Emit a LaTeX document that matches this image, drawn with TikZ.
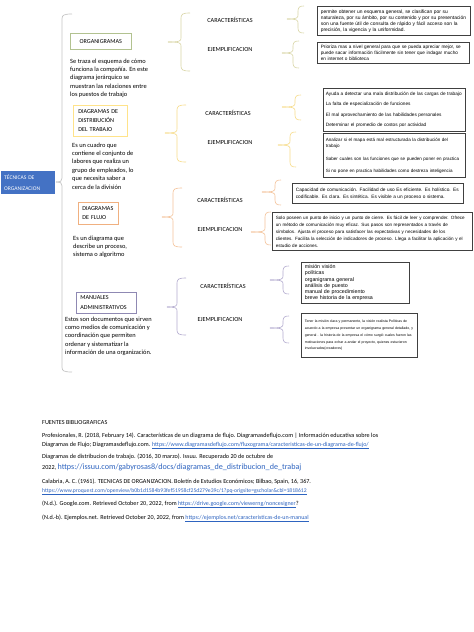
\documentclass[tikz,border=0pt]{standalone}
\usepackage{fontspec}
\setmainfont{Carlito}
\newfontfamily\arialf{Liberation Sans}
\definecolor{mainblue}{HTML}{4472C4}
\definecolor{graybr}{HTML}{C4C4C4}
\definecolor{orgbr}{HTML}{D9D6A6}
\definecolor{orgbox}{HTML}{B2C290}
\definecolor{distbr}{HTML}{F7DC8A}
\definecolor{distbox}{HTML}{FFE38A}
\definecolor{flubr}{HTML}{F4C39A}
\definecolor{flubox}{HTML}{F0B080}
\definecolor{manbr}{HTML}{B3ABCF}
\definecolor{manbox}{HTML}{8F89B3}
\definecolor{boxline}{HTML}{404040}
\definecolor{urlblue}{HTML}{2E64C0}
\newcommand\fs[2]{\fontsize{#1}{#2}\selectfont}
\newcommand\lnk[1]{\textcolor{urlblue}{\underline{#1}}}
% brace: x, top, mid, bottom, tick x, stub, style
\newcommand\cbr[7]{%
\draw[#7] ({#1+#6},#2) .. controls ({#1+2},#2) and (#1,{#2+1}) .. (#1,{#2+5}) -- (#1,{#3-4}) .. controls (#1,{#3-1}) and ({#1-1},#3) .. (#5,#3);
\draw[#7] (#5,#3) .. controls ({#1-1},#3) and (#1,{#3+1}) .. (#1,{#3+4}) -- (#1,{#4-5}) .. controls (#1,{#4-1}) and ({#1+2},#4) .. ({#1+#6},#4);}
\tikzset{
  brc/.style={line width=0.6pt},
  mainnode/.style={fill=mainblue, text=white, font=\fs{5.6}{11}, align=left, anchor=north west, inner xsep=3pt, text width=48pt, minimum height=23pt},
  branch/.style={draw, line width=0.6pt, align=left, anchor=north west, font=\fs{6.1}{9}},
  lbl/.style={font=\fs{6.2}{7}, inner sep=0pt},
  desc/.style={font=\fs{6.4}{8.4}, align=left, anchor=north west, inner sep=0pt},
  cbox/.style={draw=boxline, line width=0.7pt, align=left, anchor=north west, inner xsep=3.5pt, inner ysep=1pt},
  bib/.style={font=\fs{6.15}{7}, anchor=base west, inner sep=0pt}
}
\begin{document}
\begin{tikzpicture}[x=1pt,y=-1pt]
\useasboundingbox[fill=white] (0,0) rectangle (474,632);

% main node
\node[mainnode] (main) at (1,171) {TÉCNICAS DE\\ORGANIZACION};

% big brace
\cbr{62}{14}{182}{372}{56}{10}{brc, graybr, line width=0.7pt}

% branch nodes
\node[branch, draw=orgbox, minimum width=61pt, minimum height=16pt, align=center] (org) at (70,33) {ORGANIGRAMAS};
\node[desc] (orgd) at (70,58.5) {Se traza el esquema de cómo\\funciona la compañía. En este\\diagrama jerárquico se\\muestran las relaciones entre\\los puestos de trabajo};

\node[branch, draw=distbox, text width=44pt, inner xsep=5pt, minimum height=31pt] (dist) at (73,105) {DIAGRAMAS DE\\DISTRIBUCIÓN\\DEL TRABAJO};
\node[desc] (distd) at (72,142.5) {Es un cuadro que\\contiene el conjunto de\\labores que realiza un\\grupo de empleados, lo\\que necesita saber a\\cerca de la división};

\node[branch, draw=flubox, text width=32pt, inner xsep=4pt, minimum height=22pt] (flu) at (78,202) {DIAGRAMAS\\DE FLUJO};
\node[desc] (flud) at (73,235.5) {Es un diagrama que\\describe un proceso,\\sistema o algoritmo};

\node[branch, draw=manbox, text width=52pt, inner xsep=4pt, minimum height=21pt, font=\fs{6.1}{10}] (man) at (76,292) {MANUALES\\ADMINISTRATIVOS};
\node[desc] (mand) at (65,316.5) {Estos son documentos que sirven\\como medios de comunicación y\\coordinación que permiten\\ordenar y sistematizar la\\información de una organización.};

% second-level braces
\cbr{181}{13}{42}{71}{168}{9}{brc, orgbr}
\cbr{177}{105}{133}{162}{165}{9}{brc, distbr}
\cbr{173}{188}{217}{247}{162}{9}{brc, flubr}
\cbr{177}{278}{307}{335}{167}{9}{brc, manbr}

% labels
\node[lbl] (oc) at (230,20) {CARACTERÍSTICAS};
\node[lbl] (oe) at (230,50) {EJEMPLIFICACION};
\node[lbl] (dc) at (228,113) {CARACTERÍSTICAS};
\node[lbl] (de) at (230,143) {EJEMPLIFICACION};
\node[lbl] (fc) at (220,200) {CARACTERÍSTICAS};
\node[lbl] (fe) at (220,230) {EJEMPLIFICACION};
\node[lbl] (mc) at (223,286) {CARACTERÍSTICAS};
\node[lbl] (me) at (220,320) {EJEMPLIFICACION};

% third-level braces
\cbr{298}{6}{19}{33}{287}{6}{brc, orgbr}
\cbr{293}{41}{53}{68}{282}{6}{brc, orgbr}
\cbr{295}{95}{107}{120}{282}{6}{brc, distbr}
\cbr{290}{132}{145}{167}{278}{6}{brc, distbr}
\cbr{275}{180}{192}{205}{262}{6}{brc, flubr}
\cbr{265}{212}{232}{245}{251}{6}{brc, flubr}
\cbr{283}{266}{280}{294}{270}{6}{brc, manbr}
\cbr{283}{316}{328}{343}{270}{6}{brc, manbr}

% content boxes
\node[cbox, text width=146pt, minimum height=29pt, font=\arialf\fs{4.9}{6}] (b1) at (317,6) {permite obtener un esquema general, se clasifican por su\\naturaleza, por su ámbito, por su contenido y por su presentación\\son una fuente útil de consulta de rápido y fácil acceso son la\\precisión, la vigencia y la uniformidad.};
\node[cbox, text width=145pt, minimum height=21pt, font=\arialf\fs{4.7}{6}] (b2) at (317,42) {Prioriza mas a nivel general para que se pueda apreciar mejor, se\\puede sacar información fácilmente sin tener que indagar mucho\\en internet o biblioteca};
\node[cbox, text width=137pt, inner xsep=2.5pt, minimum height=43pt, font=\arialf\fs{4.72}{6}] (b3) at (323,88) {\mbox{Ayuda a detectar una mala distribución de las cargas de trabajo}\\[4.3pt]La falta de especialización de funciones\\[4.3pt]El mal aprovechamiento de las habilidades personales\\[4.3pt]Determinar el promedio de costos por actividad};
\node[cbox, text width=137pt, inner xsep=2.5pt, minimum height=44pt, font=\arialf\fs{4.55}{6}] (b4) at (323,133) {\mbox{Analizar si el mapa está mal estructurada la distribución del}\\trabajo\\[7pt]\mbox{Saber cuales son las funciones que se pueden poner en practica}\\[6pt]\mbox{Si no pone en practica habilidades como destreza inteligencia}};
\node[cbox, text width=164pt, minimum height=20pt, font=\arialf\fs{4.75}{7}] (b5) at (292,183) {Capacidad de comunicación. Facilidad de uso Es eficiente. Es holístico. Es\\codificable. Es clara. Es sintética. Es visible a un proceso o sistema.};
\node[cbox, text width=193pt, minimum height=38pt, font=\arialf\fs{4.6}{7}] (b6) at (272,212) {Solo poseen un punto de inicio y un punto de cierre. Es fácil de leer y comprender. Ofrece\\un método de comunicación muy eficaz. Sus pasos son representados a través de\\símbolos. Ajusta el proceso para satisfacer las expectativas y necesidades de los\\clientes. Facilita la selección de indicadores de proceso. Llega a facilitar la aplicación y el\\estudio de acciones.};
\node[cbox, text width=101pt, minimum height=41pt, font=\arialf\fs{5.3}{6.2}] (b7) at (301,262) {misión visión\\políticas\\organigrama general\\análisis de puesto\\manual de procedimiento\\breve historia de la empresa};
\node[cbox, text width=109pt, minimum height=44pt, font=\arialf\fs{3.5}{6.8}] (b8) at (301,313) {Tener la misión clara y permanente, la visión realista Políticas de\\acuerdo a la empresa presentar un organigrama general detallado, y\\general . la historia de la empresa el cómo surgió cuales fueron las\\motivaciones para echar a andar el proyecto, quienes estuvieron\\involucrados(creadores)};

% bibliography
\node[bib] (r1) at (42,424) {FUENTES BIBLIOGRAFICAS};
\node[bib] (r2) at (42,437) {Profesionales, R. (2018, February 14). Características de un diagrama de flujo. Diagramasdeflujo.com | Información educativa sobre los};
\node[bib] (r3) at (42,446) {Diagramas de Flujo; Diagramasdeflujo.com. {\fs{6}{7}\lnk{https://www.diagramasdeflujo.com/fluxograma/caracteristicas-de-un-diagrama-de-flujo/}}};
\node[bib] (r4) at (42,458) {Diagramas de distribucion de trabajo. (2016, 30 marzo). Issuu. Recuperado 20 de octubre de};
\node[bib] (r5) at (42,469.5) {2022, {\fs{8.1}{9}\textcolor{urlblue}{https://issuu.com/gabyrosas8/docs/diagramas\_de\_distribucion\_de\_trabaj}}};
\node[bib] (r6) at (42,483) {Calabria, A. C. (1961). TECNICAS DE ORGANIZACION. Boletín de Estudios Económicos; Bilbao, Spain, 16, 367.};
\node[bib] (r7) at (42,492) {{\fs{5.65}{7}\lnk{https://www.proquest.com/openview/b0b1d1584b93fef51958cf25d279e39c/1?pq-origsite=gscholar\&cbl=1818612}}};
\node[bib] (r8) at (42,505) {(N.d.). Google.com. Retrieved October 20, 2022, from {\fs{6}{7}\lnk{https://drive.google.com/viewerng/noncesigner}}?};
\node[bib] (r9) at (42,519) {(N.d.-b). Ejemplos.net. Retrieved October 20, 2022, from {\fs{6}{7}\lnk{https://ejemplos.net/caracteristicas-de-un-manual}}};
\end{tikzpicture}
\end{document}
